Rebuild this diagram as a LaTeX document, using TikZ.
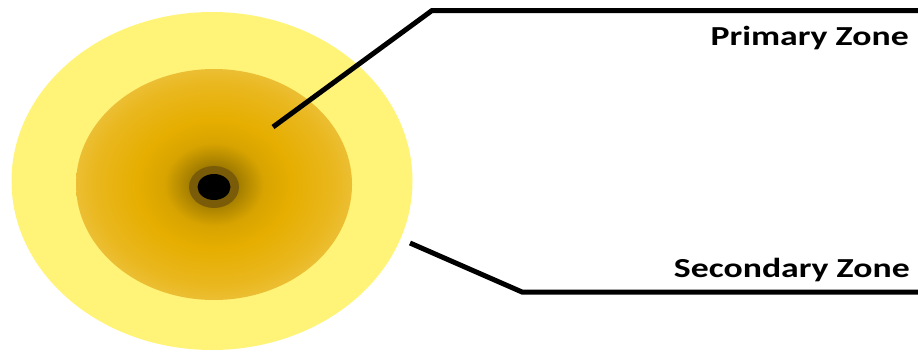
\documentclass[tikz,border=0pt]{standalone}
\usepackage{fontspec}
\setmainfont{Carlito}
\usetikzlibrary{shapes.geometric}
\definecolor{outerY}{HTML}{FFF478}
\definecolor{edgeG}{HTML}{F0CA5A}
\definecolor{midG}{HTML}{E6AE00}
\definecolor{darkG}{HTML}{9E7A00}
\definecolor{ringG}{HTML}{7A5C08}
\pgfdeclareradialshading{coreshade}{\pgfpoint{0bp}{0bp}}{%
  color(0bp)=(darkG); color(4bp)=(darkG); color(9bp)=(midG!80!darkG); color(14bp)=(midG); color(22bp)=(midG!65!edgeG); color(31bp)=(edgeG); color(50bp)=(edgeG)}
\tikzset{
  zone/.style={ellipse, inner sep=0pt, draw=none},
  leader/.style={line width=5pt, line join=miter},
  zonelabel/.style={font=\bfseries\fontsize{27.5}{30}\selectfont, inner sep=0pt, xscale=1.3, anchor=base east}
}
\begin{document}
\begin{tikzpicture}[x=1pt,y=-1pt]
\useasboundingbox (0,0) rectangle (918,351);
\node[zone, fill=outerY, minimum width=401pt, minimum height=338pt] (outer) at (212,181) {};
\node[zone, shading=coreshade, minimum width=276pt, minimum height=231pt] (inner) at (214,184.5) {};
\node[zone, fill=ringG, minimum width=50pt, minimum height=42pt] (ring) at (214,187) {};
\node[zone, fill=black, minimum width=33pt, minimum height=26pt] (dot) at (214,187) {};
\coordinate (p1) at (273,127);
\coordinate (p2) at (432,10.5);
\coordinate (p3) at (918,10.5);
\coordinate (s1) at (410,243);
\coordinate (s2) at (522,292);
\coordinate (s3) at (918,292);
\draw[leader] (p1) -- (p2) -- (p3);
\draw[leader] (s1) -- (s2) -- (s3);
\node[zonelabel] (primary) at (909,45.5) {Primary Zone};
\node[zonelabel] (secondary) at (910,277) {Secondary Zone};
\end{tikzpicture}
\end{document}
